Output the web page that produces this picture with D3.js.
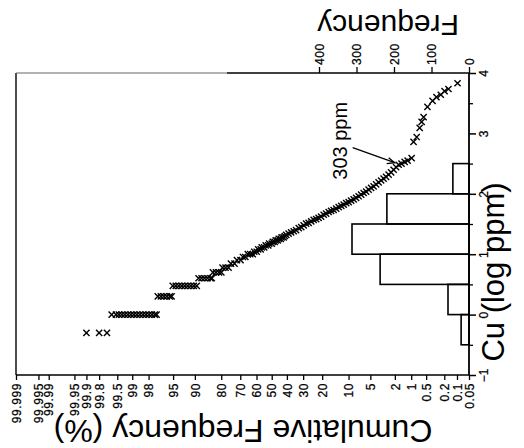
<!DOCTYPE html>
<html>
<head>
<meta charset="utf-8">
<script src="https://cdn.jsdelivr.net/npm/d3@7"></script>
<style>
  html, body { margin: 0; padding: 0; background: #fff; }
  svg { display: block; font-family: "Liberation Sans", Arial, Helvetica, sans-serif; }
</style>
</head>
<body>
<svg id="chart" width="524" height="448"></svg>
<script>
// ---- data -------------------------------------------------------------
// Cu concentrations (log ppm) and cumulative frequency (%) of each plotted sample
const cuLog = [
  -0.301, -0.301, -0.301,
  0, 0, 0, 0, 0, 0, 0, 0, 0, 0, 0, 0, 0, 0, 0, 0,
  0.301, 0.301, 0.301, 0.301, 0.301, 0.301,
  0.477, 0.477, 0.477, 0.477, 0.477, 0.477, 0.477, 0.477, 0.477,
  0.602, 0.602, 0.602, 0.602, 0.602, 0.602,
  0.699, 0.699, 0.699, 0.699,
  0.778, 0.778, 0.778,
  0.845, 0.845,
  0.903, 0.903,
  0.954, 0.954,
  1.000, 1.000, 1.000,
  1.041, 1.041,
  1.079, 1.079,
  1.114, 1.114,
  1.146, 1.146,
  1.176, 1.176,
  1.204, 1.204,
  1.230, 1.230,
  1.255, 1.255,
  1.279, 1.279,
  1.301,
  1.321, 1.342, 1.362, 1.380, 1.398, 1.431, 1.447, 1.477, 1.505, 1.519,
  1.544, 1.568, 1.580, 1.602, 1.623, 1.653, 1.672, 1.699, 1.716, 1.732,
  1.756, 1.778, 1.799, 1.820, 1.845, 1.863, 1.886, 1.908, 1.934, 1.959,
  1.987, 2.013, 2.037, 2.068, 2.097, 2.124, 2.155, 2.188, 2.220, 2.250,
  2.281, 2.316, 2.356, 2.398, 2.440, 2.481,
  2.500, 2.530, 2.550, 2.590, 2.860, 2.940, 3.090, 3.190, 3.270, 3.440,
  3.540, 3.600, 3.640, 3.700, 3.735, 3.830
];
const cumPct = [
  99.90, 99.80, 99.70,
  99.62, 99.53, 99.46, 99.38, 99.29, 99.18, 99.06, 98.93, 98.78, 98.61, 98.42, 98.21, 97.98, 97.72, 97.44, 97.26,
  97.13, 96.78, 96.41, 96.00, 95.54, 95.25,
  95.05, 94.52, 93.94, 93.32, 92.65, 91.92, 91.15, 90.32, 89.44,
  88.88, 87.90, 86.86, 85.77, 84.61, 84.13,
  83.65, 82.38, 81.06, 79.95,
  79.39, 77.94, 76.42,
  75.17, 73.24,
  71.90, 69.85,
  68.44, 67.00,
  65.5, 64.0, 62.4,
  61.5, 59.9,
  58.9, 57.3,
  56.6, 55.0,
  54.0, 52.3,
  51.7, 50.0,
  49.3, 48.0,
  47.3, 46.0,
  45.3, 44.0,
  43.4, 42.1,
  41.4,
  40.4, 38.9, 37.3, 35.7, 34.2, 32.6, 31.1, 29.7, 28.3, 26.9,
  25.5, 24.2, 22.9, 21.7, 20.5, 19.3, 18.2, 17.1, 16.1, 15.1,
  14.1, 13.2, 12.3, 11.5, 10.7, 9.97, 9.26, 8.58, 7.96, 7.35,
  6.79, 6.26, 5.76, 5.30, 4.87, 4.46, 4.08, 3.73, 3.40, 3.10,
  2.82, 2.56, 2.32, 2.10, 1.90, 1.71,
  1.52, 1.33, 1.17, 0.98, 0.90, 0.78, 0.68, 0.62, 0.565, 0.47,
  0.365, 0.30, 0.24, 0.197, 0.16, 0.097
];

// histogram of Cu (log ppm), bins of 0.5
const binStart = [-0.5, 0, 0.5, 1, 1.5, 2];
const binFreq  = [21, 56, 237, 312, 219, 43];

// axis ticks
const pctTicks  = [99.999, 99.995, 99.99, 99.95, 99.9, 99.8, 99.5, 99, 98, 95, 90, 80, 70, 60, 50, 40, 30, 20, 10, 5, 2, 1, 0.5, 0.2, 0.1, 0.05];
const cuTicks   = [-1, 0, 1, 2, 3, 4];
const cuMinor   = [-0.5, 0.5, 1.5, 2.5, 3.5];
const freqTicks = [0, 100, 200, 300, 400];

// highlighted sample
const markPpm = 303;
const markPct = 1.71;

// ---- helpers ----------------------------------------------------------
// inverse standard normal CDF (Acklam's rational approximation)
function probit(p) {
  const a = [-3.969683028665376e+01, 2.209460984245205e+02, -2.759285104469687e+02, 1.383577518672690e+02, -3.066479806614716e+01, 2.506628277459239e+00];
  const b = [-5.447609879822406e+01, 1.615858368580409e+02, -1.556989798598866e+02, 6.680131188771972e+01, -1.328068155288572e+01];
  const c = [-7.784894002430293e-03, -3.223964580411365e-01, -2.400758277161838e+00, -2.549732539343734e+00, 4.374664141464968e+00, 2.938163982698783e+00];
  const d = [7.784695709041462e-03, 3.224671290700398e-01, 2.445134137142996e+00, 3.754408661907416e+00];
  const pl = 0.02425, ph = 1 - pl;
  let q, r;
  if (p < pl) {
    q = Math.sqrt(-2 * Math.log(p));
    return (((((c[0]*q+c[1])*q+c[2])*q+c[3])*q+c[4])*q+c[5]) / ((((d[0]*q+d[1])*q+d[2])*q+d[3])*q+1);
  }
  if (p <= ph) {
    q = p - 0.5; r = q * q;
    return (((((a[0]*r+a[1])*r+a[2])*r+a[3])*r+a[4])*r+a[5])*q / (((((b[0]*r+b[1])*r+b[2])*r+b[3])*r+b[4])*r+1);
  }
  q = Math.sqrt(-2 * Math.log(1 - p));
  return -(((((c[0]*q+c[1])*q+c[2])*q+c[3])*q+c[4])*q+c[5]) / ((((d[0]*q+d[1])*q+d[2])*q+d[3])*q+1);
}
const zOf = pct => probit(pct / 100);

// ---- layout & scales --------------------------------------------------
const plotLeft = 16, plotRight = 469, plotTop = 73, plotBottom = 375;

const xProb = d3.scaleLinear().domain([zOf(99.999), zOf(0.05)]).range([plotLeft, plotRight]);
const yCu   = d3.scaleLinear().domain([-1, 4]).range([plotBottom, plotTop]);
const xFreq = d3.scaleLinear().domain([0, 400]).range([plotRight, 319]);

const svg = d3.select("#chart");
const tickFont = 12;

// ---- histogram --------------------------------------------------------
svg.append("g")
  .selectAll("rect")
  .data(binStart.map((s, i) => ({ s, f: binFreq[i] })))
  .join("rect")
  .attr("x", d => xFreq(d.f))
  .attr("width", d => xFreq(0) - xFreq(d.f))
  .attr("y", d => yCu(d.s + 0.5))
  .attr("height", d => yCu(d.s) - yCu(d.s + 0.5))
  .attr("fill", "none")
  .attr("stroke", "#000")
  .attr("stroke-width", 1.6);

// ---- frame ------------------------------------------------------------
const frame = svg.append("g").attr("stroke", "#000").attr("fill", "none");
frame.append("line").attr("x1", plotLeft).attr("x2", plotLeft).attr("y1", plotTop).attr("y2", plotBottom).attr("stroke-width", 1.4);
frame.append("line").attr("x1", plotLeft).attr("x2", plotRight).attr("y1", plotBottom).attr("y2", plotBottom).attr("stroke-width", 1.6);
frame.append("line").attr("x1", plotLeft).attr("x2", 227).attr("y1", plotTop).attr("y2", plotTop)
  .attr("stroke", "#666").attr("stroke-width", 1);
frame.append("line").attr("x1", 227).attr("x2", plotRight).attr("y1", plotTop).attr("y2", plotTop).attr("stroke-width", 1.5);
frame.append("line").attr("x1", plotRight).attr("x2", plotRight).attr("y1", plotTop).attr("y2", plotBottom).attr("stroke-width", 1.8);

// ---- cumulative frequency axis (bottom) -------------------------------
const probAxis = d3.axisBottom(xProb)
  .tickValues(pctTicks.map(zOf))
  .tickFormat((d, i) => String(pctTicks[i]))
  .tickSizeInner(5).tickSizeOuter(0);
const gProb = svg.append("g").attr("transform", `translate(0,${plotBottom})`).call(probAxis);
gProb.select(".domain").remove();
gProb.selectAll(".tick line").attr("stroke-width", 1.3);
gProb.selectAll(".tick text")
  .attr("font-size", tickFont).attr("letter-spacing", 0.6).attr("fill", "#000")
  .attr("stroke", "#000").attr("stroke-width", 0.25)
  .attr("font-family", "Liberation Sans, Arial, sans-serif")
  .attr("text-anchor", "end")
  .attr("y", 0).attr("dy", "0.35em")
  .attr("transform", "translate(0,8) rotate(-90)");

// ---- Cu axis (right) --------------------------------------------------
const cuAxis = d3.axisRight(yCu).tickValues(cuTicks).tickFormat(d3.format("d"))
  .tickSizeInner(7).tickSizeOuter(0);
const gCu = svg.append("g").attr("transform", `translate(${plotRight},0)`).call(cuAxis);
gCu.select(".domain").remove();
gCu.selectAll(".tick line").attr("stroke-width", 1.5);
gCu.selectAll(".tick text")
  .attr("font-size", tickFont).attr("fill", "#000")
  .attr("stroke", "#000").attr("stroke-width", 0.25)
  .attr("font-family", "Liberation Sans, Arial, sans-serif")
  .attr("text-anchor", "middle")
  .attr("x", 0).attr("dy", 0)
  .attr("transform", "translate(19,0) rotate(-90)");

const cuMinorAxis = d3.axisRight(yCu).tickValues(cuMinor).tickFormat("")
  .tickSizeInner(4).tickSizeOuter(0);
const gCuMinor = svg.append("g").attr("transform", `translate(${plotRight},0)`).call(cuMinorAxis);
gCuMinor.select(".domain").remove();
gCuMinor.selectAll(".tick line").attr("stroke-width", 1.3);

// ---- frequency axis (top) ---------------------------------------------
const freqAxis = d3.axisTop(xFreq).tickValues(freqTicks).tickFormat(d3.format("d"))
  .tickSizeInner(6).tickSizeOuter(0);
const gFreq = svg.append("g").attr("transform", `translate(0,${plotTop})`).call(freqAxis);
gFreq.select(".domain").remove();
gFreq.selectAll(".tick line").attr("stroke-width", 1.3);
gFreq.selectAll(".tick text")
  .attr("font-size", tickFont).attr("letter-spacing", 0.6).attr("fill", "#000")
  .attr("stroke", "#000").attr("stroke-width", 0.25)
  .attr("font-family", "Liberation Sans, Arial, sans-serif")
  .attr("text-anchor", "start")
  .attr("y", 0).attr("dy", "0.35em")
  .attr("transform", "translate(0,-8) rotate(-90)");

// ---- sample points ----------------------------------------------------
const cross = "M-3.1,-3.1L3.1,3.1M-3.1,3.1L3.1,-3.1";
svg.append("g")
  .selectAll("path")
  .data(cuLog.map((c, i) => ({ c, p: cumPct[i] })))
  .join("path")
  .attr("d", cross)
  .attr("transform", d => `translate(${xProb(zOf(d.p))},${yCu(d.c)})`)
  .attr("fill", "none")
  .attr("stroke", "#000")
  .attr("stroke-width", 1.4);

// ---- annotation -------------------------------------------------------
const mx = xProb(zOf(markPct)), my = yCu(Math.log10(markPpm));
const ann = svg.append("g");
ann.append("line")
  .attr("x1", mx - 46).attr("y1", my - 17)
  .attr("x2", mx - 4).attr("y2", my - 2)
  .attr("stroke", "#000").attr("stroke-width", 1.3);
ann.append("path")
  .attr("d", `M${mx - 10},${my - 7}L${mx - 4},${my - 2}L${mx - 12},${my - 1}`)
  .attr("fill", "none").attr("stroke", "#000").attr("stroke-width", 1.3);
ann.append("text")
  .attr("transform", `translate(${mx - 52},${my + 15}) rotate(-90)`)
  .attr("text-anchor", "start")
  .attr("font-size", 20)
  .text(`${markPpm} ppm`);

// ---- axis titles ------------------------------------------------------
svg.append("text")
  .attr("transform", "translate(504,272) rotate(-90)")
  .attr("text-anchor", "middle").attr("font-size", 31)
  .text("Cu (log ppm)");

svg.append("text")
  .attr("transform", "translate(243,420) rotate(180)")
  .attr("text-anchor", "middle").attr("font-size", 32)
  .text("Cumulative Frequency (%)");

svg.append("text")
  .attr("transform", "translate(388,15) rotate(180)")
  .attr("text-anchor", "middle").attr("font-size", 30)
  .text("Frequency");
</script>
</body>
</html>
